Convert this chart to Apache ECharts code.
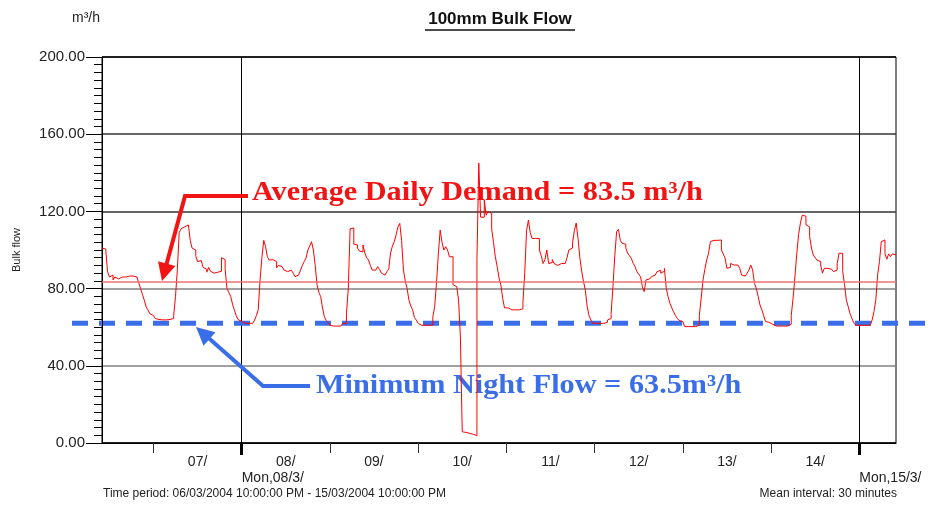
<!DOCTYPE html>
<html>
<head>
<meta charset="utf-8">
<script src="https://cdn.jsdelivr.net/npm/echarts@6/dist/echarts.min.js"></script>
<style>
html, body { margin: 0; padding: 0; background: #fff; }
#chart { width: 939px; height: 506px; }
</style>
</head>
<body>
<div id="chart"></div>
<script>
// half-hourly bulk flow readings, m3/h, one array per calendar day (March 2004)
var day06 = [101, 100.5, 100.5, 89, 86, 87, 84.5, 86, 85, 84.5, 86, 85, 86, 85, 86.5, 86, 86.5, 86, 86, 85.5, 83, 80, 77, 74, 70.5, 69, 67, 66]; // from 10:00
var day07 = [65, 64.5, 64, 64, 63.8, 63.8, 63.8, 64, 64, 64, 64.5, 66, 76, 90, 109, 111, 112, 113, 113, 112, 105, 101, 100, 97, 94, 94.5, 94, 91, 90, 88.5, 91, 89, 88, 88, 88.5, 88, 89, 96, 95, 90, 80, 78, 76, 72, 69, 66, 64, 63];
var day08 = [62.3, 62, 62, 62, 62, 62, 62.5, 63.7, 66, 69, 84.5, 96, 105, 101.7, 96.5, 94.8, 95, 95.8, 94, 90.7, 92, 91.4, 90.5, 89.6, 88.8, 89, 89.6, 89, 88, 86.2, 87, 87, 89.6, 92, 94, 95.8, 100, 102, 104.3, 100, 92, 82, 78, 75.8, 69.9, 65.4, 63.5, 62.3];
var day09 = [61, 60.6, 60.6, 60.6, 60.6, 60.6, 60.6, 62, 62, 67, 80, 111, 111.4, 103, 102.6, 101, 99.5, 99, 102.6, 98.4, 96, 94.8, 92, 89.6, 89.6, 88.8, 91.4, 90, 88, 87, 86.2, 88.8, 90, 98.4, 102, 104.3, 107.8, 112, 113.8, 105, 89.6, 84, 80, 74, 71, 69, 65, 63.7];
var day10 = [62, 61, 61, 61, 61, 61, 61, 61, 65.4, 70.6, 83, 98, 110.4, 104, 100, 101.7, 100, 96.5, 96.5, 82, 81, 81, 74, 55, 5.8, 5.5, 5.2, 5, 4.8, 4.5, 4.2, 3.8, 95, 145, 117, 117, 126, 118, 120, 119, 111, 104, 96.5, 91.4, 85.5, 82, 75, 70];
var day11 = [70, 69, 69, 69, 69, 69, 69, 69, 69.5, 72.5, 88, 110, 115.5, 109, 106, 106, 105.5, 106, 100, 97, 93, 95, 100, 93, 93.5, 95, 93, 92, 92.5, 93, 94, 93, 94, 96, 100, 101, 103.5, 110, 114, 106, 96, 89, 83.6, 79, 70.6, 66, 63.7, 62];
var day12 = [62, 62, 62, 62, 62, 62, 62.5, 63.7, 64.5, 67, 81, 97, 109.5, 110.7, 105, 103.5, 103, 101, 98.3, 97, 95.7, 93.1, 91.4, 88.8, 87.5, 86.2, 81, 78.4, 84.5, 85, 85.3, 86.2, 87, 87.9, 88.8, 89.5, 88, 89, 90.5, 80.2, 75.8, 72.4, 70, 68, 66, 64.6, 63.5, 62.9];
var day13 = [62, 60.3, 60.3, 60.3, 60.3, 60.3, 60.3, 60.5, 61, 66, 75, 84.5, 90, 94.8, 98.3, 104.3, 105, 106, 105, 106, 105.2, 100, 98, 95.8, 90.5, 91, 93, 92.2, 92, 92.2, 91.4, 90.5, 87, 86.5, 86.5, 88, 89.6, 92.2, 89.6, 82.7, 80, 76, 71.5, 69, 66, 63, 62.5, 62];
var day14 = [61.5, 60.6, 60.6, 60.6, 60.6, 60.6, 60.6, 60.6, 60.6, 60.6, 61.5, 66, 75, 86, 98, 108, 114, 118, 117.5, 113, 112, 107, 101, 97.4, 96, 94.8, 94, 92.2, 88, 90.5, 90.5, 89.6, 90, 90.5, 88.8, 89.6, 93, 98.3, 98.3, 88.8, 82, 74, 70.6, 67, 64.6, 62.3, 61, 61];
var day15 = [61, 61, 61, 61, 61, 61, 61.5, 63.7, 68, 74, 87, 94, 104.3, 105.2, 98.3, 95.2, 98, 96.5, 98, 97.4, 97.4]; // to 10:00

var dayLabels = ['07/', '08/', '09/', '10/', '11/', '12/', '13/', '14/'];
var mondayLabels = ['Mon,08/3/', 'Mon,15/3/'];
var avgDemand = 83.5;
var minNightFlow = 62;

// x = hours since 06/03/2004 00:00
var firstHour = 10, lastHour = 226;
var days = [day06, day07, day08, day09, day10, day11, day12, day13, day14, day15];
var flow = [];
days.forEach(function (arr, d) {
    var start = d === 0 ? firstHour : 0;
    arr.forEach(function (v, i) {
        flow.push([d * 24 + start + i * 0.5, v]);
    });
});
var midnights = dayLabels.map(function (l, i) { return (i + 1) * 24; });
var noons = dayLabels.map(function (l, i) { return (i + 1) * 24 + 12; });
var mondays = [48, 216];

var FONT = '"Liberation Sans", Arial, sans-serif';
var SERIF = '"Liberation Serif", "Times New Roman", serif';

var option = {
    animation: false,
    backgroundColor: '#fff',
    grid: { left: 102, right: 43, top: 57, bottom: 63, show: true, borderColor: '#000', borderWidth: 1 },
    xAxis: [{
        type: 'value', min: firstHour, max: lastHour, position: 'bottom',
        axisLine: { show: true, lineStyle: { color: '#000', width: 1 } },
        axisTick: { show: true, customValues: midnights, length: 10, lineStyle: { color: '#333' } },
        axisLabel: {
            customValues: noons, margin: 12, fontSize: 14, fontFamily: FONT, color: '#222',
            formatter: function (v) { return dayLabels[Math.round((v - 36) / 24)]; }
        },
        splitLine: { show: false }
    }, {
        type: 'value', min: firstHour, max: lastHour, position: 'bottom',
        axisLine: { show: false },
        axisTick: { show: true, customValues: mondays, length: 12, lineStyle: { color: '#000', width: 3 } },
        axisLabel: {
            customValues: mondays, margin: 28, fontSize: 14, fontFamily: FONT, color: '#222', align: 'left',
            formatter: function (v) { return mondayLabels[v === mondays[0] ? 0 : 1]; }
        },
        splitLine: { show: true, lineStyle: { color: '#000', width: 1 } }
    }],
    yAxis: {
        type: 'value', min: 0, max: 200, interval: 40,
        name: 'Bulk flow', nameLocation: 'middle', nameGap: 80, nameRotate: 90,
        nameTextStyle: { fontSize: 11, fontFamily: FONT, color: '#222' },
        axisLine: { show: true, lineStyle: { color: '#000', width: 1 } },
        axisTick: { show: true, length: 16, lineStyle: { color: '#000' } },
        minorTick: { show: true, splitNumber: 10, length: 8, lineStyle: { color: '#000' } },
        axisLabel: {
            margin: 17, fontSize: 15, fontFamily: FONT, color: '#222',
            formatter: function (v) { return v.toFixed(2); }
        },
        splitLine: { show: true, lineStyle: { color: ['#000', '#808080', '#808080', '#333', '#333', '#000'], width: 1.5 } }
    },
    series: [{
        type: 'line',
        data: flow,
        step: 'end',
        showSymbol: false,
        lineStyle: { color: '#ff0000', width: 1 },
        markLine: {
            silent: true, symbol: ['none', 'none'], label: { show: false },
            lineStyle: { color: '#f07070', width: 1.5, type: 'solid' },
            data: [{ yAxis: avgDemand }]
        }
    }]
};

var chart = echarts.init(document.getElementById('chart'));
chart.setOption(option);

function arrow(pts, color, headLen, headW) {
    var n = pts.length, tip = pts[n - 1], prev = pts[n - 2];
    var dx = tip[0] - prev[0], dy = tip[1] - prev[1];
    var len = Math.sqrt(dx * dx + dy * dy), ux = dx / len, uy = dy / len;
    var bx = tip[0] - ux * headLen, by = tip[1] - uy * headLen;
    var shaft = pts.slice(0, n - 1).concat([[bx + ux * 2, by + uy * 2]]);
    return [
        { type: 'polyline', shape: { points: shaft }, style: { stroke: color, lineWidth: 4, fill: null } },
        { type: 'polygon', shape: { points: [tip, [bx - uy * headW, by + ux * headW], [bx + uy * headW, by - ux * headW]] }, style: { fill: color } }
    ];
}

var red = '#f01414', blue = '#3a6ee8';
var yNight = chart.convertToPixel({ yAxisIndex: 0 }, minNightFlow);
var graphics = [
    { type: 'text', x: 500, y: 19, style: { text: '100mm Bulk Flow', font: 'bold 17px ' + FONT, fill: '#111', align: 'center', verticalAlign: 'middle' } },
    { type: 'line', shape: { x1: 425, y1: 30, x2: 575, y2: 30 }, style: { stroke: '#111', lineWidth: 1.5 } },
    { type: 'text', x: 72, y: 18, style: { text: 'm³/h', font: '14px ' + FONT, fill: '#222', verticalAlign: 'middle' } },
    { type: 'text', x: 103, y: 494, style: { text: 'Time period: 06/03/2004 10:00:00 PM - 15/03/2004 10:00:00 PM', font: '12px ' + FONT, fill: '#222', verticalAlign: 'middle' } },
    { type: 'text', x: 897, y: 494, style: { text: 'Mean interval: 30 minutes', font: '12px ' + FONT, fill: '#222', align: 'right', verticalAlign: 'middle' } },
    { type: 'line', shape: { x1: 72, y1: yNight, x2: 926, y2: yNight }, style: { stroke: blue, lineWidth: 5, lineDash: [16, 11] } },
    { type: 'text', x: 252, y: 193, scaleX: 1.12, style: { text: 'Average Daily Demand = 83.5 m³/h', font: 'bold 27px ' + SERIF, fill: red, verticalAlign: 'middle' } },
    { type: 'text', x: 316, y: 386, scaleX: 1.12, style: { text: 'Minimum Night Flow = 63.5m³/h', font: 'bold 27px ' + SERIF, fill: blue, verticalAlign: 'middle' } }
];
graphics = graphics.concat(arrow([[248, 196], [185, 196], [162, 281]], red, 18, 9));
graphics = graphics.concat(arrow([[310, 386], [263, 386], [196, 327]], blue, 18, 9));
chart.setOption({ graphic: graphics });
</script>
</body>
</html>
